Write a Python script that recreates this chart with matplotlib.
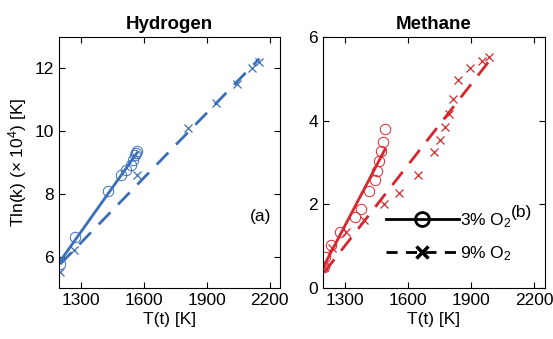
import numpy as np
import matplotlib
matplotlib.use('Agg')
import matplotlib.pyplot as plt
from matplotlib.lines import Line2D

plt.rcParams['font.family'] = ['Liberation Sans', 'DejaVu Sans']
plt.rcParams['mathtext.fontset'] = 'custom'
plt.rcParams['mathtext.rm'] = 'Liberation Sans'
plt.rcParams['mathtext.it'] = 'Liberation Sans:italic'
plt.rcParams['font.size'] = 12.5

# Hydrogen, 3% O2 (circles) and 9% O2 (crosses)
h2_T3 = [1200, 1271, 1430, 1493, 1517, 1541, 1546, 1557, 1564, 1568]
h2_y3 = [5.75, 6.63, 8.10, 8.60, 8.76, 8.92, 9.08, 9.24, 9.30, 9.38]
h2_T9 = [1200, 1266, 1565, 1810, 1946, 2044, 2115, 2152]
h2_y9 = [5.50, 6.22, 8.60, 10.10, 10.90, 11.50, 12.00, 12.20]

# Methane
ch4_T3 = [1200, 1205, 1233, 1276, 1347, 1376, 1416, 1440, 1454, 1462, 1471, 1482, 1490]
ch4_y3 = [0.51, 0.75, 1.04, 1.35, 1.70, 1.90, 2.33, 2.58, 2.79, 3.04, 3.28, 3.50, 3.79]
ch4_T9 = [1200, 1236, 1305, 1392, 1487, 1558, 1646, 1725, 1752, 1773, 1792, 1811, 1835,
          1895, 1950, 1985]
ch4_y9 = [0.50, 0.95, 1.33, 1.62, 2.00, 2.28, 2.69, 3.25, 3.54, 3.86, 4.17, 4.52, 4.98,
          5.27, 5.43, 5.52]

blue = '#3a6fb8'
red = '#d8262e'
dash = (0, (6, 4))

fig = plt.figure(figsize=(5.53, 3.39), dpi=100)
ax1 = fig.add_axes([0.1067, 0.1504, 0.3996, 0.7405])
ax2 = fig.add_axes([0.584, 0.1504, 0.4015, 0.7405])


def panel(ax, T3, y3, T9, y9, c):
    ax.plot(T3, y3, 'o', mfc='none', mec=c, ms=7.5, mew=0.7)
    ax.plot(T9, y9, 'x', color=c, ms=6, mew=0.9)
    for T, y, ls in [(T3, y3, '-'), (T9, y9, dash)]:
        T = np.array(T)
        p = np.polyfit(T, y, 1)
        xx = np.array([T.min(), T.max()])
        ax.plot(xx, np.polyval(p, xx), color=c, lw=2, ls=ls)
    ax.set_xlim(1195, 2250)
    ax.set_xticks([1300, 1600, 1900, 2200])
    ax.tick_params(direction='in', top=True, right=True, length=4, labelsize=12.5)
    ax.set_xlabel('T(t) [K]', fontsize=12.5, labelpad=3)


panel(ax1, h2_T3, h2_y3, h2_T9, h2_y9, blue)
ax1.set_ylim(5, 13)
ax1.set_yticks([6, 8, 10, 12])
ax1.set_ylabel(r'Tln(k) ($\times$ 10$^4$) [K]', fontsize=12.5)
ax1.set_title('Hydrogen', fontweight='bold', fontsize=13.5)
ax1.text(0.91, 0.283, '(a)', transform=ax1.transAxes, ha='center', va='center')

panel(ax2, ch4_T3, ch4_y3, ch4_T9, ch4_y9, red)
ax2.set_ylim(0, 6)
ax2.set_yticks([0, 2, 4, 6])
ax2.set_title('Methane', fontweight='bold', fontsize=13.5)
ax2.text(0.892, 0.3, '(b)', transform=ax2.transAxes, ha='center', va='center')

handles = [Line2D([], [], color='k', lw=2, marker='o', mfc='none', ms=10, mew=2),
           Line2D([], [], color='k', lw=2, ls=(0, (4, 3)), marker='x', ms=9, mew=2.5)]
ax2.legend(handles, ['3% O$_2$', '9% O$_2$'], loc='upper left',
           bbox_to_anchor=(0.245, 0.34), frameon=False, handlelength=4.2,
           handletextpad=0.05, borderpad=0, labelspacing=0.8, fontsize=12.5)

fig.savefig('out.png', dpi=100)
